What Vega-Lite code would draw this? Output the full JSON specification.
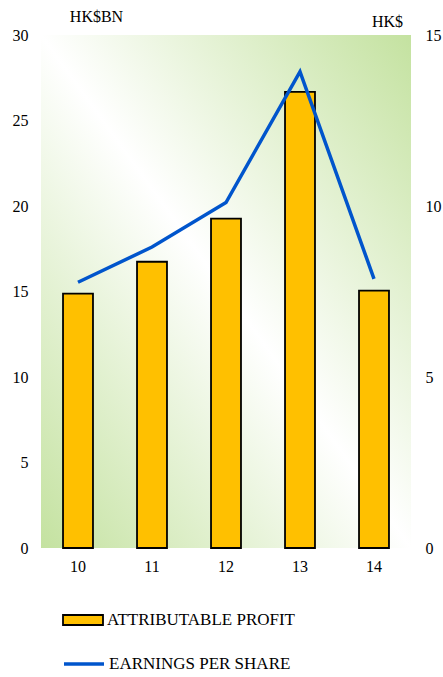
{
  "$schema": "https://vega.github.io/schema/vega-lite/v6.json",
  "width": 370,
  "height": 513,
  "autosize": {"type": "none"},
  "padding": {"left": 41, "top": 35, "right": 32, "bottom": 129},
  "background": "white",
  "config": {
    "view": {
      "stroke": null,
      "fill": {
        "gradient": "linear",
        "x1": 0, "y1": 1, "x2": 1, "y2": 0,
        "stops": [
          {"offset": 0, "color": "#c4e2a0"},
          {"offset": 0.5, "color": "#ffffff"},
          {"offset": 1, "color": "#c4e2a0"}
        ]
      }
    },
    "font": "Liberation Serif",
    "axis": {
      "domain": false,
      "ticks": false,
      "grid": false,
      "labelFont": "Liberation Serif",
      "labelFontSize": 16,
      "labelColor": "#000000",
      "titleFont": "Liberation Serif",
      "titleFontSize": 16,
      "titleFontWeight": "normal",
      "titleColor": "#000000"
    },
    "legend": {
      "labelFont": "Liberation Serif",
      "labelFontSize": 17,
      "labelColor": "#000000",
      "labelLimit": 0,
      "padding": 0,
      "labelOffset": 3
    }
  },
  "data": {
    "values": [
      {"year": "10", "profit": 14.88, "eps": 7.77, "s1": "ATTRIBUTABLE PROFIT", "s2": "EARNINGS PER SHARE"},
      {"year": "11", "profit": 16.74, "eps": 8.8, "s1": "ATTRIBUTABLE PROFIT", "s2": "EARNINGS PER SHARE"},
      {"year": "12", "profit": 19.26, "eps": 10.1, "s1": "ATTRIBUTABLE PROFIT", "s2": "EARNINGS PER SHARE"},
      {"year": "13", "profit": 26.67, "eps": 13.93, "s1": "ATTRIBUTABLE PROFIT", "s2": "EARNINGS PER SHARE"},
      {"year": "14", "profit": 15.05, "eps": 7.87, "s1": "ATTRIBUTABLE PROFIT", "s2": "EARNINGS PER SHARE"}
    ]
  },
  "encoding": {
    "x": {
      "field": "year",
      "type": "ordinal",
      "scale": {"paddingInner": 0.595, "paddingOuter": 0.2975},
      "axis": {"title": null, "labelAngle": 0, "labelPadding": 10}
    }
  },
  "layer": [
    {
      "mark": {"type": "bar", "stroke": "#000000", "strokeWidth": 1.8},
      "encoding": {
        "y": {
          "field": "profit",
          "type": "quantitative",
          "scale": {"domain": [0, 30], "nice": false},
          "axis": {
            "orient": "left",
            "values": [0, 5, 10, 15, 20, 25, 30],
            "labelPadding": 13,
            "title": "HK$BN",
            "titleAngle": 0,
            "titleAlign": "center",
            "titleBaseline": "alphabetic",
            "titleX": 55,
            "titleY": -14
          }
        },
        "fill": {
          "field": "s1",
          "type": "nominal",
          "scale": {"range": ["#ffc000"]},
          "legend": {
            "title": null,
            "orient": "none",
            "legendX": 21,
            "legendY": 564,
            "symbolType": "M-1,-0.25H1V0.25H-1Z",
            "symbolSize": 1600,
            "symbolStrokeColor": "#000000",
            "symbolStrokeWidth": 1.8,
            "symbolFillColor": "#ffc000"
          }
        }
      }
    },
    {
      "mark": {"type": "line", "strokeWidth": 3.5, "color": "#0055cc"},
      "encoding": {
        "y": {
          "field": "eps",
          "type": "quantitative",
          "scale": {"domain": [0, 15], "nice": false},
          "axis": {
            "orient": "right",
            "values": [0, 5, 10, 15],
            "labelPadding": 14,
            "title": "HK$",
            "titleAngle": 0,
            "titleAlign": "center",
            "titleBaseline": "alphabetic",
            "titleX": -24,
            "titleY": -9
          }
        },
        "stroke": {
          "field": "s2",
          "type": "nominal",
          "scale": {"range": ["#0055cc"]},
          "legend": {
            "title": null,
            "orient": "none",
            "legendX": 21,
            "legendY": 607,
            "symbolType": "stroke",
            "symbolSize": 1600,
            "symbolStrokeWidth": 3.5,
            "symbolStrokeColor": "#0055cc"
          }
        }
      }
    }
  ],
  "resolve": {"scale": {"y": "independent", "fill": "independent", "stroke": "independent"}, "legend": {"fill": "independent", "stroke": "independent"}}
}
